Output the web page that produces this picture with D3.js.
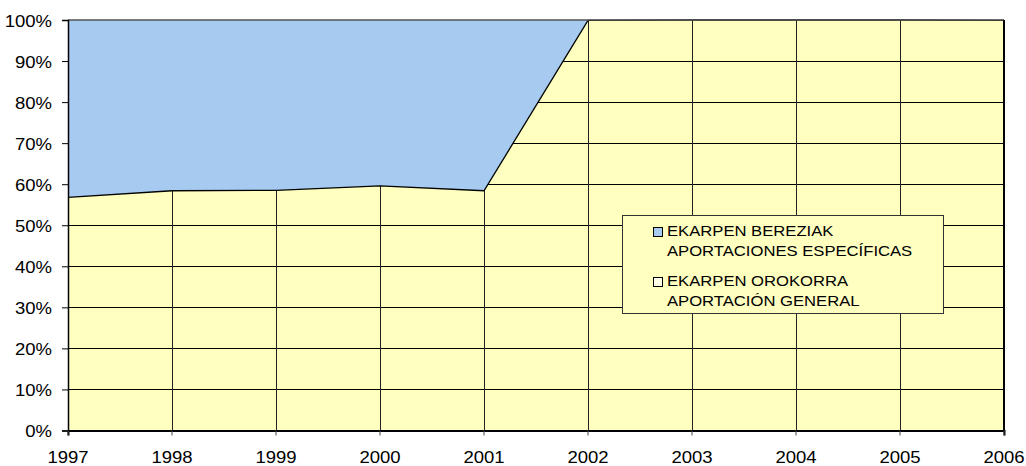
<!DOCTYPE html>
<html><head><meta charset="utf-8">
<script src="https://cdn.jsdelivr.net/npm/d3@7"></script>
<style>body{margin:0;background:#fff}svg{display:block}text{font-family:"Liberation Sans",Arial,sans-serif;fill:#000}</style>
</head><body><svg id="c" width="1026" height="466"></svg>
<script>
const years = [1997,1998,1999,2000,2001,2002,2003,2004,2005,2006];
const general = [56.8,58.4,58.5,59.6,58.4,99.9,100,100,100,99.9];
const specific = [43.2,41.6,41.5,40.4,41.6,0.1,0,0,0,0.1];
const yTicks = [0,10,20,30,40,50,60,70,80,90,100];
const legendLabels = [["EKARPEN BEREZIAK","APORTACIONES ESPECÍFICAS"],["EKARPEN OROKORRA","APORTACIÓN GENERAL"]];
const colors = {specific:"#A6CAF0", general:"#FFFFC0"};

const svg = d3.select("#c");
const L=68, R=1004, T=20, B=430.5;
const x = d3.scaleLinear().domain([1997,2006]).range([L,R]);
const y = d3.scaleLinear().domain([0,100]).range([B,T]);
const sx = 1.09;

svg.append("rect").attr("x",L).attr("y",T).attr("width",R-L).attr("height",B-T).attr("fill",colors.general);

// grid
svg.append("g").selectAll("line").data(yTicks.filter(d=>d>0&&d<100)).join("line")
  .attr("x1",L).attr("x2",R).attr("y1",d=>Math.round(y(d))+0.5).attr("y2",d=>Math.round(y(d))+0.5)
  .attr("stroke","#000").attr("stroke-width",1);
svg.append("g").selectAll("line").data(years.slice(1,-1)).join("line")
  .attr("x1",d=>Math.round(x(d))+0.5).attr("x2",d=>Math.round(x(d))+0.5).attr("y1",T).attr("y2",B)
  .attr("stroke","#222").attr("stroke-width",1);

const data = years.map((yr,i)=>({yr,g:general[i],s:specific[i]}));
const area = d3.area().x(d=>x(d.yr)).y0(d=>y(d.g)).y1(d=>y(d.g+d.s));
svg.append("path").datum(data).attr("d",area).attr("fill",colors.specific);
const line = d3.line().x(d=>x(d.yr)).y(d=>y(d.g));
svg.append("path").datum(data).attr("d",line).attr("fill","none").attr("stroke","#000").attr("stroke-width",1.3);

// borders
svg.append("line").attr("x1",L).attr("x2",R).attr("y1",T).attr("y2",T).attr("stroke","#555").attr("stroke-width",1.5);
svg.append("line").attr("x1",R).attr("x2",R).attr("y1",T).attr("y2",B).attr("stroke","#000").attr("stroke-width",2);

// axes
const ya = svg.append("g").attr("transform",`translate(${L},0)`)
  .call(d3.axisLeft(y).tickValues(yTicks).tickSize(6).tickFormat(d=>d+"%"));
ya.select(".domain").attr("stroke","#000").attr("stroke-width",1.5);
ya.selectAll(".tick line").attr("stroke","#000");
ya.selectAll(".tick text").attr("font-size",17).attr("dy",null).attr("y",6)
  .attr("x",-16/sx).attr("transform",`scale(${sx},1)`).attr("font-family",null);

const xa = svg.append("g").attr("transform",`translate(0,${B})`)
  .call(d3.axisBottom(x).tickValues(years).tickSize(5).tickFormat(d3.format("d")));
xa.select(".domain").attr("stroke","#000").attr("stroke-width",2);
xa.selectAll(".tick line").attr("stroke","#444");
xa.selectAll(".tick text").attr("font-size",17).attr("dy",null).attr("y",33)
  .attr("transform",`scale(${sx},1)`).attr("font-family",null);
xa.selectAll(".tick").each(function(d){
  d3.select(this).attr("transform",`translate(${x(d)},0)`);
  d3.select(this).select("text").attr("x",0);
});
svg.selectAll(".tick text").style("fill","#000");

// legend
const lg = svg.append("g");
lg.append("rect").attr("x",622.5).attr("y",215.5).attr("width",321).attr("height",98)
  .attr("fill",colors.general).attr("stroke","#333").attr("stroke-width",1);
const items=[{c:colors.specific,t:legendLabels[0],y:227.5},{c:"#FFFFE8",t:legendLabels[1],y:277.5}];
items.forEach(it=>{
  lg.append("rect").attr("x",653.5).attr("y",it.y).attr("width",9).attr("height",9)
    .attr("fill",it.c).attr("stroke","#000").attr("stroke-width",1);
  it.t.forEach((s,k)=>{
    lg.append("text").attr("transform",`translate(667,${it.y+8.5+k*19.5}) scale(1.11,1)`)
      .attr("font-size",15).text(s);
  });
});
</script></body></html>
